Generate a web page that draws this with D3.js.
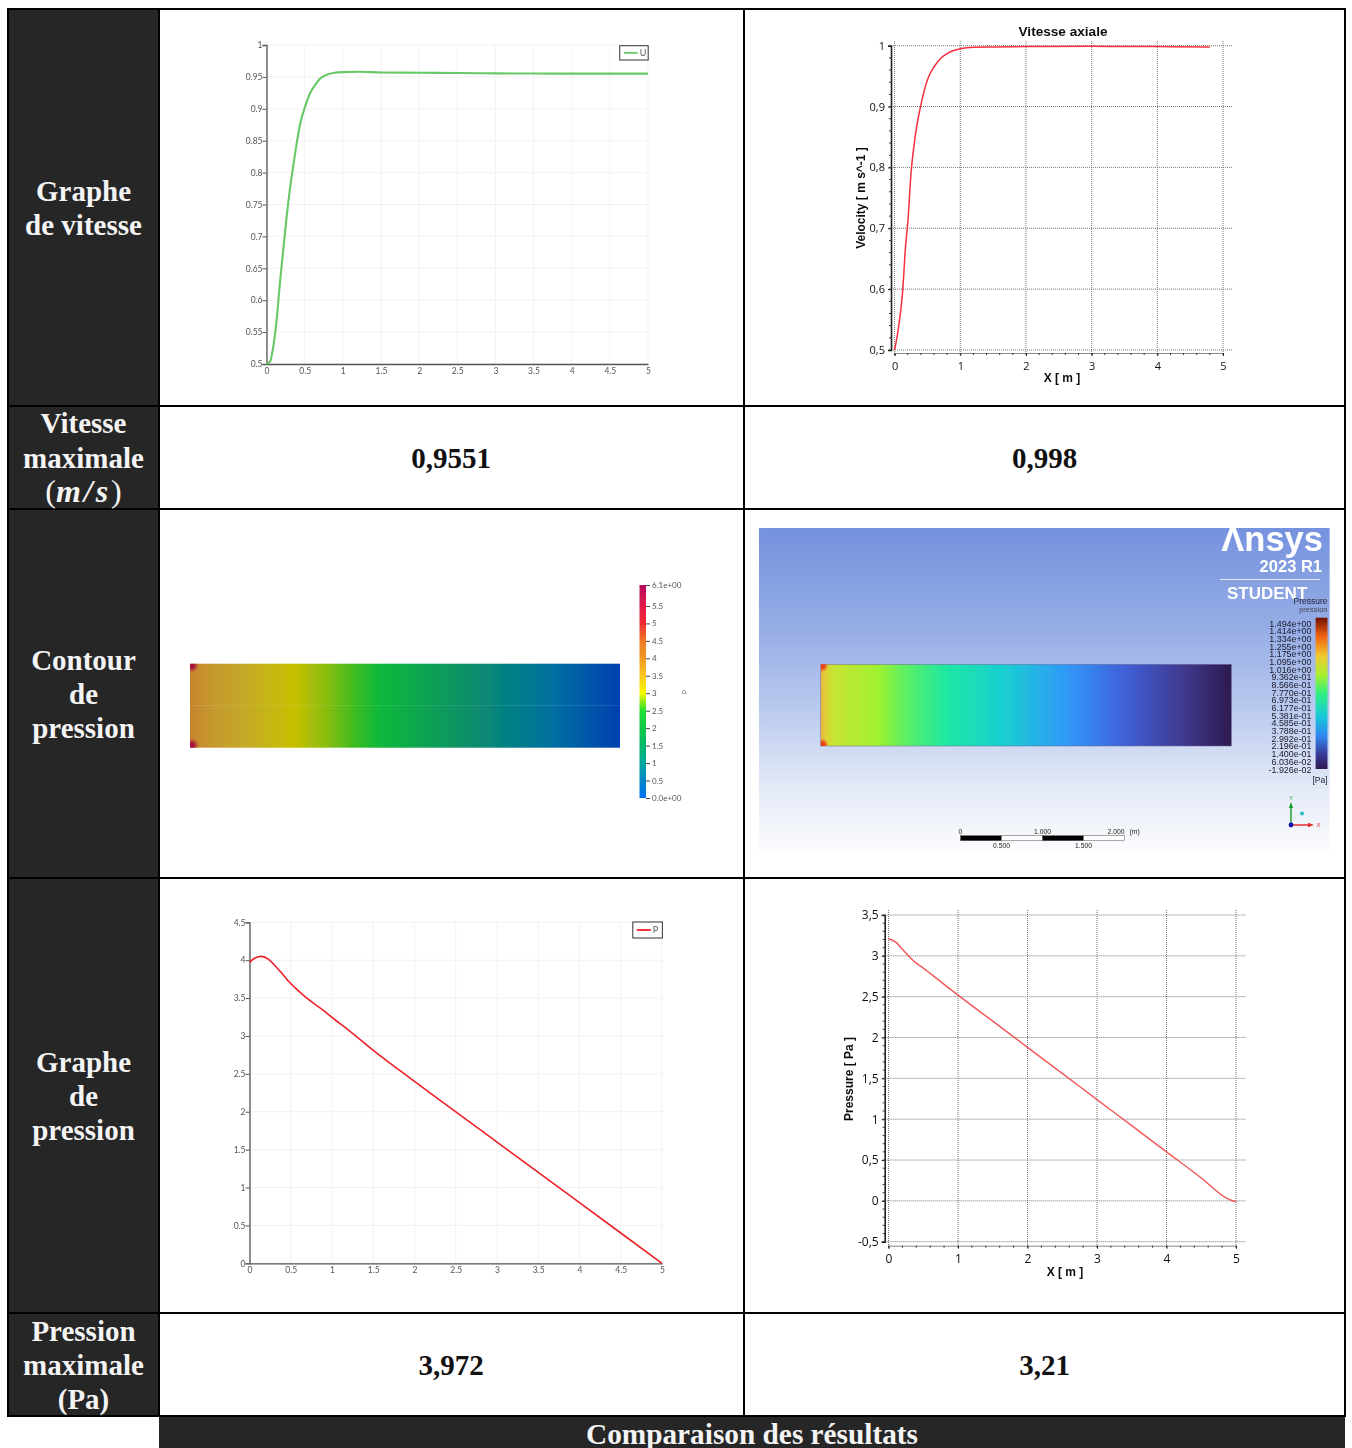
<!DOCTYPE html>
<html>
<head>
<meta charset="utf-8">
<script src="https://cdn.jsdelivr.net/npm/d3@7"></script>
<style>
  html, body { margin: 0; padding: 0; background: #fff; overflow: hidden; }
  svg { display: block; }
</style>
</head>
<body>
<div id="chart"></div>
<script>
// table text
var headGrapheVitesse = ["Graphe", "de vitesse"];
var headVitesseMax = ["Vitesse", "maximale"];
var headContour = ["Contour", "de", "pression"];
var headGraphePression = ["Graphe", "de", "pression"];
var headPressionMax = ["Pression", "maximale", "(Pa)"];
var vitesseMaxValues = ["0,9551", "0,998"];
var pressionMaxValues = ["3,972", "3,21"];
var footerText = "Comparaison des résultats";

// velocity, left plot
var velXLeft = [0, 0.046, 0.089, 0.133, 0.177, 0.22, 0.264, 0.308, 0.351, 0.396, 0.439, 0.505, 0.57, 0.636, 0.7, 0.789, 0.898, 1.006, 1.2, 1.5, 2, 2.5, 3, 3.5, 4, 4.5, 5];
var velYLeft = [0.5, 0.5036, 0.527, 0.569, 0.628, 0.679, 0.731, 0.775, 0.811, 0.846, 0.875, 0.903, 0.924, 0.937, 0.947, 0.9535, 0.9566, 0.9575, 0.958, 0.957, 0.9565, 0.956, 0.9555, 0.9553, 0.9551, 0.9551, 0.9551];
var velTicksLeft = [0.5, 0.55, 0.6, 0.65, 0.7, 0.75, 0.8, 0.85, 0.9, 0.95, 1];

// velocity, right plot
var velXRight = [0, 0.05, 0.12, 0.17, 0.2, 0.25, 0.3, 0.4, 0.5, 0.6, 0.7, 0.8, 0.9, 1, 1.2, 1.5, 2, 3, 3.5, 4, 4.8];
var velYRight = [0.5, 0.53, 0.593, 0.675, 0.708, 0.79, 0.84, 0.9025, 0.944, 0.965, 0.979, 0.987, 0.992, 0.995, 0.9975, 0.998, 0.9985, 0.999, 0.9985, 0.9985, 0.998];
var velTicksRight = [0.5, 0.6, 0.7, 0.8, 0.9, 1];

// pressure, left plot
var presXLeft = [0, 0.067, 0.148, 0.228, 0.309, 0.39, 0.47, 0.552, 0.673, 0.794, 0.915, 1.036, 1.158, 1.5, 2, 3, 4, 5];
var presYLeft = [3.972, 4.03, 4.05, 4.015, 3.927, 3.83, 3.725, 3.637, 3.518, 3.418, 3.32, 3.214, 3.114, 2.81, 2.4, 1.6, 0.8, 0];
var presTicksLeft = [0, 0.5, 1, 1.5, 2, 2.5, 3, 3.5, 4, 4.5];

// pressure, right plot
var presXRight = [0, 0.1, 0.2, 0.3, 0.4, 0.5, 0.6, 0.8, 1, 1.5, 2, 2.5, 3, 3.5, 4, 4.5, 4.85, 4.92, 5];
var presYRight = [3.21, 3.17, 3.08, 2.99, 2.91, 2.85, 2.785, 2.65, 2.52, 2.2, 1.88, 1.56, 1.24, 0.92, 0.6, 0.28, 0.04, 0.01, -0.01];
var presTicksRight = [-0.5, 0, 0.5, 1, 1.5, 2, 2.5, 3, 3.5];

var xTicksHalf = [0, 0.5, 1, 1.5, 2, 2.5, 3, 3.5, 4, 4.5, 5];
var xTicksWhole = [0, 1, 2, 3, 4, 5];

// contour colours along the pipe
var contourLeftX = [0, 0.25, 0.6, 1.21, 1.6, 1.9, 2.21, 3.2, 4.2, 5];
var contourLeftColor = ["#c8842e", "#c5982e", "#c4a82a", "#c8c000", "#88bc10", "#40bc20", "#0cb83a", "#0a9068", "#0070a0", "#0040b0"];
var contourRightX = [0, 0.06, 0.15, 0.7, 1, 1.5, 2.2, 3, 3.7, 4.4, 5];
var contourRightColor = ["#ecb43c", "#e0d038", "#c8e434", "#9ff22f", "#62f060", "#20e8a0", "#18d0d0", "#3098f8", "#4060d8", "#403a90", "#2e1a50"];

// colour bar, left
var barLeftValues = [0, 0.5, 1, 1.5, 2, 2.5, 3, 3.5, 4, 4.5, 5, 5.5, 6.1];
var barLeftColors = ["#0070f0", "#0088c8", "#00a8a0", "#00b868", "#10c848", "#20e030", "#f8f800", "#f8c820", "#f09820", "#f07828", "#f02c30", "#e01848", "#b80c60"];

// colour bar, right
var barRightLabels = ["1.494e+00", "1.414e+00", "1.334e+00", "1.255e+00", "1.175e+00", "1.095e+00", "1.016e+00", "9.362e-01", "8.566e-01", "7.770e-01", "6.973e-01", "6.177e-01", "5.381e-01", "4.585e-01", "3.788e-01", "2.992e-01", "2.196e-01", "1.400e-01", "6.036e-02", "-1.926e-02"];
var barRightStops = [0, 0.1, 0.22, 0.35, 0.5, 0.62, 0.75, 0.88, 1];
var barRightColors = ["#2e1a50", "#3a3a98", "#3088f0", "#18c8d8", "#30f080", "#a8f030", "#f0c830", "#f06010", "#701000"];

var scaleBarTop = [0, 1, 2];
var scaleBarBottom = [0.5, 1.5];
var scaleBarParts = [0, 0.5, 1, 1.5];
var backdropStops = [0, 0.3, 0.55, 0.78, 1];
var backdropColors = ["#7592de", "#95ace5", "#b9c9ee", "#e0e7f6", "#fdfdfe"];

var width = 1352, height = 1448;
var darkCell = "#262626";
var serif = "'Liberation Serif', serif";
var sans = "'Liberation Sans', sans-serif";
var soft = "Lato, 'Open Sans', sans-serif";

var svg = d3.select("#chart").append("svg")
    .attr("width", width)
    .attr("height", height);

var defs = svg.append("defs");
defs.append("filter").attr("id", "soft")
    .attr("x", "-5%").attr("y", "-5%").attr("width", "110%").attr("height", "110%")
    .append("feGaussianBlur").attr("stdDeviation", 0.55);

// hot spot in the inlet corners of the contours
function addSpot(id, color) {
    var spot = defs.append("radialGradient").attr("id", id);
    spot.append("stop").attr("offset", 0.35).attr("stop-color", color).attr("stop-opacity", 1);
    spot.append("stop").attr("offset", 1).attr("stop-color", color).attr("stop-opacity", 0);
}
addSpot("spotLeft", "#a81440");
addSpot("spotRight", "#e8401a");

function zip(xs, ys) {
    return xs.map(function (d, i) { return [d, ys[i]]; });
}

function comma(d) {
    return String(d).replace(".", ",");
}

function addGradient(id, x1, y1, x2, y2, offsets, colors) {
    defs.append("linearGradient")
        .attr("id", id)
        .attr("gradientUnits", "userSpaceOnUse")
        .attr("x1", x1).attr("y1", y1).attr("x2", x2).attr("y2", y2)
        .selectAll("stop")
        .data(zip(offsets, colors))
        .enter().append("stop")
        .attr("offset", function (d) { return d[0]; })
        .attr("stop-color", function (d) { return d[1]; });
}

// ------- the table -------
var colX = [8, 159, 744, 1345];
var rowY = [9, 406, 509, 878, 1313, 1416];

var table = svg.append("g");
table.append("rect")
    .attr("x", colX[0]).attr("y", rowY[0])
    .attr("width", colX[1] - colX[0]).attr("height", rowY[5] - rowY[0])
    .attr("fill", darkCell);
table.append("rect")
    .attr("x", colX[1]).attr("y", rowY[5])
    .attr("width", colX[3] - colX[1]).attr("height", height - rowY[5])
    .attr("fill", darkCell);

table.selectAll(".hline")
    .data(rowY)
    .enter().append("line")
    .attr("x1", colX[0] - 1).attr("x2", colX[3] + 1)
    .attr("y1", function (d) { return d; })
    .attr("y2", function (d) { return d; })
    .attr("stroke", "#000").attr("stroke-width", 2);
table.selectAll(".vline")
    .data(colX)
    .enter().append("line")
    .attr("x1", function (d) { return d; })
    .attr("x2", function (d) { return d; })
    .attr("y1", rowY[0]).attr("y2", rowY[5])
    .attr("stroke", "#000").attr("stroke-width", 2);

function rowHead(lines, firstBaseline, step) {
    table.selectAll(null)
        .data(lines)
        .enter().append("text")
        .attr("x", 83.5)
        .attr("y", function (d, i) { return firstBaseline + i * step; })
        .attr("text-anchor", "middle")
        .attr("font-family", serif).attr("font-weight", "bold").attr("font-size", 29)
        .attr("fill", "#f4f4f4")
        .text(function (d) { return d; });
}
rowHead(headGrapheVitesse, 201, 33.5);
rowHead(headVitesseMax, 433, 34.5);
rowHead(headContour, 670, 34);
rowHead(headGraphePression, 1072, 34);
rowHead(headPressionMax, 1341, 34);

var unitText = table.append("text")
    .attr("x", 83.5).attr("y", 502)
    .attr("text-anchor", "middle")
    .attr("font-family", serif).attr("font-size", 32).attr("fill", "#f4f4f4");
unitText.append("tspan").text("(");
unitText.append("tspan").attr("font-style", "italic").attr("font-weight", "bold")
    .attr("letter-spacing", 3).text("m/s");
unitText.append("tspan").text(")");

function valueRow(values, baseline) {
    table.selectAll(null)
        .data(values)
        .enter().append("text")
        .attr("x", function (d, i) { return i === 0 ? 451 : 1044.5; })
        .attr("y", baseline)
        .attr("text-anchor", "middle")
        .attr("font-family", serif).attr("font-weight", "bold").attr("font-size", 29)
        .attr("fill", "#111")
        .text(function (d) { return d; });
}
valueRow(vitesseMaxValues, 468);
valueRow(pressionMaxValues, 1375);

table.append("text")
    .attr("x", 752).attr("y", 1444)
    .attr("text-anchor", "middle")
    .attr("font-family", serif).attr("font-weight", "bold").attr("font-size", 29.3)
    .attr("fill", "#f4f4f4")
    .text(footerText);

// ------- paraview style plot -------
function softPlot(o) {
    var x = d3.scaleLinear().domain([0, 5]).range(o.xRange);
    var y = d3.scaleLinear().domain(o.yDomain).range(o.yRange);
    var g = svg.append("g").attr("filter", "url(#soft)");

    g.selectAll(".gx").data(xTicksHalf).enter().append("line")
        .attr("x1", function (d) { return x(d); }).attr("x2", function (d) { return x(d); })
        .attr("y1", o.yRange[0]).attr("y2", o.yRange[1])
        .attr("stroke", "#efefef").attr("stroke-width", 0.8);
    g.selectAll(".gy").data(o.yTicks).enter().append("line")
        .attr("x1", o.xRange[0]).attr("x2", o.xRange[1])
        .attr("y1", function (d) { return y(d); }).attr("y2", function (d) { return y(d); })
        .attr("stroke", "#efefef").attr("stroke-width", 0.8);

    var xAxis = g.append("g")
        .attr("transform", "translate(0," + o.yRange[0] + ")")
        .call(d3.axisBottom(x).tickValues(xTicksHalf).tickSize(0).tickPadding(4).tickFormat(function (d) { return d; }));
    var yAxis = g.append("g")
        .attr("transform", "translate(" + o.xRange[0] + ",0)")
        .call(d3.axisLeft(y).tickValues(o.yTicks).tickSize(4).tickPadding(0).tickFormat(function (d) { return d; }));
    [xAxis, yAxis].forEach(function (a) {
        a.selectAll("path").attr("stroke", "#555").attr("stroke-width", 1.3);
        a.selectAll("line").attr("stroke", "#555");
        a.selectAll("text").attr("font-family", soft).attr("font-size", 8.5).attr("fill", "#555");
    });

    g.append("path")
        .datum(zip(o.xs, o.ys))
        .attr("fill", "none")
        .attr("stroke", o.color).attr("stroke-width", o.lineWidth)
        .attr("d", d3.line()
            .x(function (d) { return x(d[0]); })
            .y(function (d) { return y(d[1]); })
            .curve(d3.curveMonotoneX));

    // legend box
    g.append("rect")
        .attr("x", o.legend[0]).attr("y", o.legend[1])
        .attr("width", o.legend[2]).attr("height", o.legend[3])
        .attr("fill", "#fff").attr("stroke", "#444").attr("stroke-width", 1.1);
    g.append("line")
        .attr("x1", o.legend[0] + 4).attr("x2", o.legend[0] + 18)
        .attr("y1", o.legend[1] + o.legend[3] / 2).attr("y2", o.legend[1] + o.legend[3] / 2)
        .attr("stroke", o.color).attr("stroke-width", 1.8);
    g.append("text")
        .attr("x", o.legend[0] + 20).attr("y", o.legend[1] + o.legend[3] / 2 + 3)
        .attr("font-family", soft).attr("font-size", 9).attr("fill", "#555")
        .text(o.name);
}

softPlot({
    xRange: [266.5, 648], yRange: [364, 45], yDomain: [0.5, 1], yTicks: velTicksLeft,
    xs: velXLeft, ys: velYLeft, color: "#68c868", lineWidth: 2.1,
    legend: [619.7, 45.7, 28.5, 14.3], name: "U"
});
softPlot({
    xRange: [249.5, 662], yRange: [1263.3, 922.3], yDomain: [0, 4.5], yTicks: presTicksLeft,
    xs: presXLeft, ys: presYLeft, color: "#ee2026", lineWidth: 1.6,
    legend: [632.8, 922, 29.6, 16], name: "P"
});

// ------- cfx post style plot -------
function cfxPlot(o) {
    var x = d3.scaleLinear().domain([0, 5]).range(o.xRange);
    var y = d3.scaleLinear().domain(o.yDomain).range(o.yRange);
    var g = svg.append("g").attr("filter", "url(#soft)");

    g.selectAll(".gx").data(xTicksWhole).enter().append("line")
        .attr("x1", function (d) { return x(d); }).attr("x2", function (d) { return x(d); })
        .attr("y1", o.gridTop).attr("y2", o.xAxisY)
        .attr("stroke", "#777").attr("stroke-width", 1).attr("stroke-dasharray", "1 1");
    g.selectAll(".gy").data(o.yTicks).enter().append("line")
        .attr("x1", o.yAxisX).attr("x2", o.gridRight)
        .attr("y1", function (d) { return y(d); }).attr("y2", function (d) { return y(d); })
        .attr("stroke", "#777").attr("stroke-width", 1).attr("stroke-dasharray", "1 1");

    var xAxis = g.append("g")
        .attr("transform", "translate(0," + o.xAxisY + ")")
        .call(d3.axisBottom(x).tickValues(xTicksWhole).tickSize(3).tickPadding(6).tickFormat(comma));
    var yAxis = g.append("g")
        .attr("transform", "translate(" + o.yAxisX + ",0)")
        .call(d3.axisLeft(y).tickValues(o.yTicks).tickSize(3).tickPadding(3).tickFormat(comma));
    // minor ticks
    xAxis.selectAll(".minor").data(d3.range(0, 5.01, 0.2)).enter().append("line")
        .attr("x1", function (d) { return x(d); }).attr("x2", function (d) { return x(d); })
        .attr("y1", 0).attr("y2", 2).attr("stroke", "#333");
    yAxis.selectAll(".minor").data(o.yMinor).enter().append("line")
        .attr("y1", function (d) { return y(d); }).attr("y2", function (d) { return y(d); })
        .attr("x1", 0).attr("x2", -2).attr("stroke", "#333");

    xAxis.select("path").attr("stroke", "#888").attr("stroke-width", 1);
    yAxis.select("path").attr("stroke", "#222").attr("stroke-width", 1.6);
    [xAxis, yAxis].forEach(function (a) {
        a.selectAll(".tick line").attr("stroke", "#222");
        a.selectAll("text").attr("font-family", "'Open Sans', sans-serif").attr("font-size", o.tickFont).attr("fill", "#111");
    });

    g.append("path")
        .datum(zip(o.xs, o.ys))
        .attr("fill", "none")
        .attr("stroke", o.color).attr("stroke-width", 1.5)
        .attr("d", d3.line()
            .x(function (d) { return x(d[0]); })
            .y(function (d) { return y(d[1]); })
            .curve(d3.curveMonotoneX));

    g.append("text")
        .attr("x", o.xTitle[0]).attr("y", o.xTitle[1])
        .attr("text-anchor", "middle")
        .attr("font-family", sans).attr("font-weight", "bold").attr("font-size", 12).attr("fill", "#111")
        .text("X [ m ]");
    g.append("text")
        .attr("transform", "translate(" + o.yTitle[0] + "," + o.yTitle[1] + ") rotate(-90)")
        .attr("text-anchor", "middle")
        .attr("font-family", sans).attr("font-weight", "bold").attr("font-size", 12).attr("fill", "#111")
        .text(o.yTitleText);
    if (o.title) {
        g.append("text")
            .attr("x", o.title[0]).attr("y", o.title[1])
            .attr("text-anchor", "middle")
            .attr("font-family", sans).attr("font-weight", "bold").attr("font-size", 13.6).attr("fill", "#111")
            .text(o.titleText);
    }
}

cfxPlot({
    xRange: [894.6, 1223], yRange: [350, 45.7], yDomain: [0.5, 1], yTicks: velTicksRight,
    yMinor: d3.range(0.5, 1.001, 0.02),
    xAxisY: 353, yAxisX: 891, gridTop: 41, gridRight: 1233, tickFont: 11,
    xs: velXRight, ys: velYRight, color: "#f4303c",
    xTitle: [1062, 382], yTitle: [865, 198], yTitleText: "Velocity [ m s^-1 ]",
    title: [1063, 35.5], titleText: "Vitesse axiale"
});
cfxPlot({
    xRange: [888.5, 1236], yRange: [1241.7, 915], yDomain: [-0.5, 3.5], yTicks: presTicksRight,
    yMinor: d3.range(-0.5, 3.501, 0.1),
    xAxisY: 1245.7, yAxisX: 884.7, gridTop: 910, gridRight: 1245.6, tickFont: 12,
    xs: presXRight, ys: presYRight, color: "#f25a5a",
    xTitle: [1065, 1275.5], yTitle: [853, 1079], yTitleText: "Pressure [ Pa ]"
});

// ------- left contour -------
var leftX = d3.scaleLinear().domain([0, 5]).range([190, 620]);
addGradient("contourLeft", leftX(0), 0, leftX(5), 0,
    contourLeftX.map(function (d) { return d / 5; }), contourLeftColor);
var barLeftY = d3.scaleLinear().domain([0, 6.1]).range([798, 585]);
addGradient("barLeft", 0, barLeftY(0), 0, barLeftY(6.1),
    barLeftValues.map(function (d) { return d / 6.1; }), barLeftColors);

defs.append("clipPath").attr("id", "leftClip")
    .append("rect").attr("x", leftX(0)).attr("y", 663.7)
    .attr("width", leftX(5) - leftX(0)).attr("height", 84);

var contourL = svg.append("g").attr("filter", "url(#soft)");
contourL.append("rect")
    .attr("x", leftX(0)).attr("y", 663.7)
    .attr("width", leftX(5) - leftX(0)).attr("height", 84)
    .attr("fill", "url(#contourLeft)");
contourL.append("line")
    .attr("x1", leftX(0)).attr("x2", leftX(5)).attr("y1", 705.5).attr("y2", 705.5)
    .attr("stroke", "#fff").attr("stroke-opacity", 0.1);
contourL.append("g").attr("clip-path", "url(#leftClip)")
    .selectAll(".corner").data([665.5, 745.5]).enter().append("circle")
    .attr("cx", leftX(0) + 1.5).attr("cy", function (d) { return d; })
    .attr("r", 7)
    .attr("fill", "url(#spotLeft)");
contourL.append("rect")
    .attr("x", 639.5).attr("y", barLeftY(6.1))
    .attr("width", 6.5).attr("height", barLeftY(0) - barLeftY(6.1))
    .attr("fill", "url(#barLeft)");

var barLeftAxis = contourL.append("g")
    .attr("transform", "translate(646,0)")
    .call(d3.axisRight(barLeftY).tickValues(barLeftValues).tickSize(4).tickPadding(2)
        .tickFormat(function (d) {
            if (d === 0) return "0.0e+00";
            if (d === 6.1) return "6.1e+00";
            return d;
        }));
barLeftAxis.select("path").remove();
barLeftAxis.selectAll("line").attr("stroke", "#444");
barLeftAxis.selectAll("text").attr("font-family", soft).attr("font-size", 8).attr("fill", "#555");
contourL.append("text")
    .attr("transform", "translate(686,692) rotate(-90)")
    .attr("text-anchor", "middle")
    .attr("font-family", soft).attr("font-size", 7).attr("fill", "#666")
    .text("p");

// ------- right contour (ansys view) -------
addGradient("backdrop", 0, 528, 0, 853, backdropStops, backdropColors);
var rightX = d3.scaleLinear().domain([0, 5]).range([820.8, 1231.4]);
addGradient("contourRight", rightX(0), 0, rightX(5), 0,
    contourRightX.map(function (d) { return d / 5; }), contourRightColor);
addGradient("barRight", 0, 769, 0, 617.7, barRightStops, barRightColors);

defs.append("clipPath").attr("id", "ansysClip")
    .append("rect").attr("x", 758.8).attr("y", 528).attr("width", 571).attr("height", 325);
defs.append("clipPath").attr("id", "rightClip")
    .append("rect").attr("x", rightX(0)).attr("y", 664.3)
    .attr("width", rightX(5) - rightX(0)).attr("height", 81.7);

var ansys = svg.append("g").attr("filter", "url(#soft)");
var ansysInner = ansys.append("g").attr("clip-path", "url(#ansysClip)");
ansysInner.append("rect")
    .attr("x", 758.8).attr("y", 528).attr("width", 571).attr("height", 325)
    .attr("fill", "url(#backdrop)");
ansysInner.append("rect")
    .attr("x", rightX(0)).attr("y", 664.3)
    .attr("width", rightX(5) - rightX(0)).attr("height", 81.7)
    .attr("fill", "url(#contourRight)")
    .attr("stroke", "#6a6a9a").attr("stroke-width", 0.5);
ansysInner.append("g").attr("clip-path", "url(#rightClip)")
    .selectAll(".corner").data([666, 744.5]).enter().append("circle")
    .attr("cx", rightX(0) + 1.5).attr("cy", function (d) { return d; })
    .attr("r", 6)
    .attr("fill", "url(#spotRight)");

// logo
ansysInner.append("text")
    .attr("x", 1323).attr("y", 551)
    .attr("text-anchor", "end")
    .attr("font-family", sans).attr("font-weight", "bold").attr("font-size", 34.5).attr("fill", "#fff")
    .text("Λnsys");
ansysInner.append("text")
    .attr("x", 1322).attr("y", 572)
    .attr("text-anchor", "end")
    .attr("font-family", sans).attr("font-weight", "bold").attr("font-size", 16.5).attr("fill", "#fff")
    .text("2023 R1");
ansysInner.append("line")
    .attr("x1", 1220).attr("x2", 1320).attr("y1", 579.5).attr("y2", 579.5)
    .attr("stroke", "#fff").attr("stroke-opacity", 0.8);
ansysInner.append("text")
    .attr("x", 1227).attr("y", 599)
    .attr("font-family", sans).attr("font-weight", "bold").attr("font-size", 17).attr("fill", "#fff")
    .text("STUDENT");
ansysInner.append("text")
    .attr("x", 1327.5).attr("y", 604)
    .attr("text-anchor", "end")
    .attr("font-family", sans).attr("font-size", 8.5).attr("fill", "#223")
    .text("Pressure");
ansysInner.append("text")
    .attr("x", 1327.5).attr("y", 612)
    .attr("text-anchor", "end")
    .attr("font-family", sans).attr("font-size", 7.5).attr("fill", "#445")
    .text("pression");

// legend bar
ansysInner.append("rect")
    .attr("x", 1315.6).attr("y", 617.7)
    .attr("width", 11.9).attr("height", 151.3)
    .attr("fill", "url(#barRight)");
var barRightY = d3.scalePoint().domain(barRightLabels).range([623.5, 769.5]);
ansysInner.selectAll(".barlabel").data(barRightLabels).enter().append("text")
    .attr("x", 1311.5)
    .attr("y", function (d) { return barRightY(d) + 3; })
    .attr("text-anchor", "end")
    .attr("font-family", sans).attr("font-size", 8.9).attr("fill", "#1a1a2a")
    .text(function (d) { return d; });
ansysInner.append("text")
    .attr("x", 1327.5).attr("y", 783)
    .attr("text-anchor", "end")
    .attr("font-family", sans).attr("font-size", 8.5).attr("fill", "#223")
    .text("[Pa]");

// scale bar
var scaleX = d3.scaleLinear().domain([0, 2]).range([960.5, 1124.6]);
ansysInner.selectAll(".seg").data(scaleBarParts).enter().append("rect")
    .attr("x", function (d) { return scaleX(d); })
    .attr("y", 835.7)
    .attr("width", scaleX(0.5) - scaleX(0))
    .attr("height", 5)
    .attr("fill", function (d, i) { return i % 2 === 0 ? "#000" : "#fff"; })
    .attr("stroke", "#555").attr("stroke-width", 0.5);
ansysInner.selectAll(".topLabel").data(scaleBarTop).enter().append("text")
    .attr("x", function (d) { return scaleX(d); })
    .attr("y", 833.5)
    .attr("text-anchor", function (d) { return d === 2 ? "end" : "middle"; })
    .attr("font-family", sans).attr("font-size", 6.8).attr("fill", "#222")
    .text(function (d) { return d === 0 ? "0" : d3.format(".3f")(d); });
ansysInner.selectAll(".bottomLabel").data(scaleBarBottom).enter().append("text")
    .attr("x", function (d) { return scaleX(d); })
    .attr("y", 847.5)
    .attr("text-anchor", "middle")
    .attr("font-family", sans).attr("font-size", 6.8).attr("fill", "#222")
    .text(function (d) { return d3.format(".3f")(d); });
ansysInner.append("text")
    .attr("x", scaleX(2) + 5).attr("y", 833.5)
    .attr("font-family", sans).attr("font-size", 6.8).attr("fill", "#222")
    .text("(m)");

// triad
ansysInner.append("line").attr("x1", 1291).attr("x2", 1291).attr("y1", 825).attr("y2", 806)
    .attr("stroke", "#1a9a2a").attr("stroke-width", 1.4);
ansysInner.append("path").attr("d", d3.line()([[1291, 802], [1288.8, 808], [1293.2, 808]]))
    .attr("fill", "#1a9a2a");
ansysInner.append("line").attr("x1", 1291).attr("x2", 1309).attr("y1", 825).attr("y2", 825)
    .attr("stroke", "#e03030").attr("stroke-width", 1.4);
ansysInner.append("path").attr("d", d3.line()([[1314, 825], [1308, 822.8], [1308, 827.2]]))
    .attr("fill", "#e03030");
ansysInner.append("circle").attr("cx", 1291).attr("cy", 825).attr("r", 2.4).attr("fill", "#1010b0");
ansysInner.append("circle").attr("cx", 1302).attr("cy", 813.5).attr("r", 2).attr("fill", "#20c0c8");
ansysInner.append("text").attr("x", 1291).attr("y", 800)
    .attr("text-anchor", "middle")
    .attr("font-family", sans).attr("font-size", 5.5).attr("fill", "#1a9a2a").text("Y");
ansysInner.append("text").attr("x", 1316.5).attr("y", 827)
    .attr("font-family", sans).attr("font-size", 6).attr("fill", "#e03030").text("X");
</script>
</body>
</html>
